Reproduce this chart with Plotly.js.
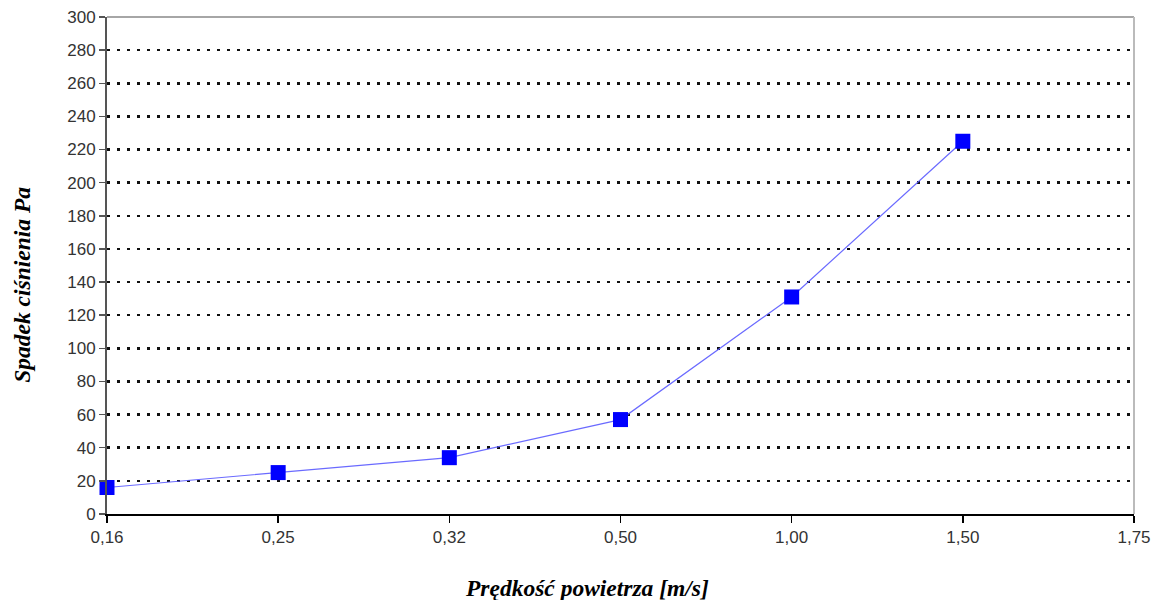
<!DOCTYPE html>
<html>
<head>
<meta charset="utf-8">
<script src="https://cdn.plot.ly/plotly-3.0.1.min.js"></script>
<style>html,body{margin:0;padding:0;background:#fff;}#chart{width:1157px;height:600px;}</style>
</head>
<body>
<div id="chart"></div>
<script>
const categories = ["0,16", "0,25", "0,32", "0,50", "1,00", "1,50", "1,75"];
const xValues = ["0,16", "0,25", "0,32", "0,50", "1,00", "1,50"];
const pressureDrop = [16, 25, 34, 57, 131, 225];
const yTicks = [0, 20, 40, 60, 80, 100, 120, 140, 160, 180, 200, 220, 240, 260, 280, 300];
const xTitle = 'Prędkość powietrza [m/s]';
const yTitle = 'Spadek ciśnienia Pa';

const trace = {
  x: xValues,
  y: pressureDrop,
  type: 'scatter',
  mode: 'lines+markers',
  line: {color: 'rgba(90,90,255,0.9)', width: 1.2},
  marker: {symbol: 'square', size: 15, color: '#0000ff', line: {width: 0}},
  cliponaxis: false,
  hoverinfo: 'none'
};

const tickFont = {family: 'Liberation Sans, Arial, sans-serif', size: 17, color: '#333'};
const titleFont = {family: 'Liberation Serif, Times New Roman, serif', size: 23.5, color: '#000'};

const layout = {
  width: 1157, height: 600,
  margin: {l: 107, r: 23, t: 17, b: 86},
  paper_bgcolor: '#fff', plot_bgcolor: '#fff',
  showlegend: false,
  xaxis: {
    type: 'category',
    categoryorder: 'array',
    categoryarray: categories,
    range: [0, categories.length - 1],
    tickvals: categories,
    ticktext: categories,
    showgrid: false,
    zeroline: false,
    showline: true, linecolor: '#000', linewidth: 1.5,
    ticks: 'outside', ticklen: 7, tickcolor: '#000', tickwidth: 1.5,
    tickfont: tickFont
  },
  yaxis: {
    range: [0, 300],
    tickvals: yTicks,
    showgrid: true, gridcolor: '#111', gridwidth: 2.5, griddash: '3px,7px',
    zeroline: false,
    showline: true, linecolor: '#555', linewidth: 2,
    ticks: 'outside', ticklen: 6, tickcolor: '#555', tickwidth: 1.5,
    tickfont: tickFont
  },
  annotations: [
    {text: '<b><i>' + xTitle + '</i></b>', xref: 'paper', yref: 'paper', x: 0.467, y: -0.149,
     xanchor: 'center', yanchor: 'middle', showarrow: false, font: titleFont},
    {text: '<b><i>' + yTitle + '</i></b>', xref: 'paper', yref: 'paper', x: -0.0828, y: 0.461,
     xanchor: 'center', yanchor: 'middle', textangle: -90, showarrow: false, font: titleFont}
  ],
  shapes: [
    {type: 'line', xref: 'paper', yref: 'paper', x0: 0, x1: 1, y0: 1, y1: 1, line: {color: '#888', width: 1.5}, layer: 'below'},
    {type: 'line', xref: 'paper', yref: 'paper', x0: 1, x1: 1, y0: 0, y1: 1, line: {color: '#bbb', width: 2}, layer: 'below'}
  ]
};

Plotly.newPlot('chart', [trace], layout, {displayModeBar: false, staticPlot: true});
</script>
</body>
</html>
